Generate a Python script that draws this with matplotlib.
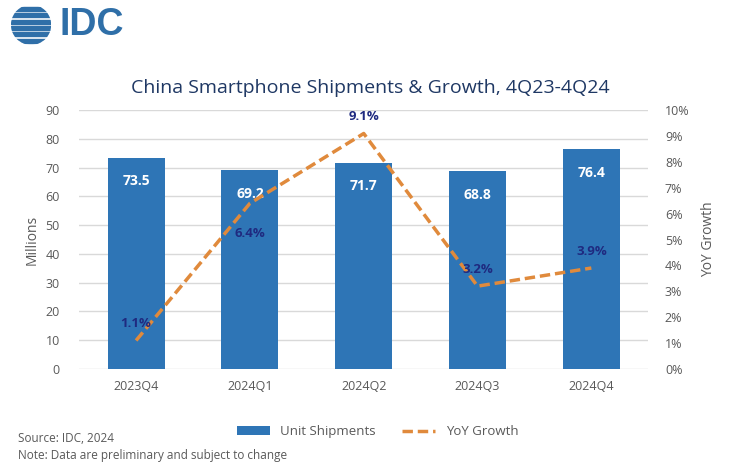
import matplotlib.pyplot as plt
import matplotlib.patches as mpatches
import numpy as np

plt.rcParams['font.family'] = ['Open Sans', 'DejaVu Sans']

# data
quarters = ["2023Q4", "2024Q1", "2024Q2", "2024Q3", "2024Q4"]
shipments = [73.5, 69.2, 71.7, 68.8, 76.4]
growth = [1.1, 6.4, 9.1, 3.2, 3.9]
# vertical offset of each growth label (points), 6.4% sits below the line
growth_offsets = [12, -22, 12, 12, 12]

bar_color = "#2E75B6"
line_color = "#E08A3C"
text_gray = "#595959"
navy = "#1F2A80"

fig = plt.figure(figsize=(7.40, 4.73), dpi=100)
ax = fig.add_axes([0.107, 0.220, 0.769, 0.547])
ax2 = ax.twinx()

x = np.arange(len(quarters))
bars = ax.bar(x, shipments, width=0.5, color=bar_color, label="Unit Shipments", zorder=2)
for xi, v in zip(x, shipments):
    ax.annotate(f"{v:.1f}", (xi, v), xytext=(0, -17), textcoords="offset points",
                ha="center", va="center", color="white", fontsize=10, fontweight="bold")

ax.set_xlim(-0.5, len(quarters) - 0.5)
ax.set_ylim(0, 90)
ax.set_yticks(range(0, 91, 10))
ax.set_xticks(x)
ax.set_xticklabels(quarters)
ax.grid(axis="y", color="#D9D9D9", linewidth=1, zorder=0)
ax.set_axisbelow(True)
ax.set_ylabel("Millions", color=text_gray, fontsize=10)

ax2.plot(x, growth, color=line_color, linestyle="--", linewidth=2.5, dashes=(3, 1.4),
         label="YoY Growth", zorder=3)
for xi, g, off in zip(x, growth, growth_offsets):
    ax2.annotate(f"{g:.1f}%", (xi, g), xytext=(0, off), textcoords="offset points",
                 ha="center", va="center", color=navy, fontsize=9.5, fontweight="bold")
ax2.set_ylim(0, 10)
ax2.set_yticks(range(0, 11))
ax2.set_yticklabels([f"{i}%" for i in range(0, 11)])
ax2.set_ylabel("YoY Growth", color=text_gray, fontsize=10, labelpad=8)

for a in (ax, ax2):
    for s in a.spines.values():
        s.set_visible(False)
    a.tick_params(length=0, colors=text_gray, labelsize=9)
ax.tick_params(axis="x", pad=8)
ax.tick_params(axis="y", pad=14)
ax2.tick_params(axis="y", pad=12)

fig.text(0.5, 0.813, "China Smartphone Shipments & Growth, 4Q23-4Q24",
         ha="center", va="center", fontsize=14, color="#1F3864")

handles = [bars, ax2.get_lines()[0]]
fig.legend(handles, ["Unit Shipments", "YoY Growth"], loc="center",
           bbox_to_anchor=(0.51, 0.087), ncol=2, frameon=False, fontsize=9.5,
           labelcolor=text_gray, handlelength=2.5, columnspacing=2)

fig.text(0.024, 0.073, "Source: IDC, 2024", fontsize=8.5, color=text_gray, va="center")
fig.text(0.024, 0.038, "Note: Data are preliminary and subject to change",
         fontsize=8.5, color=text_gray, va="center")

# IDC logo
logo_blue = "#2F6FA8"
lax = fig.add_axes([0.012, 0.905, 0.06, 0.085])
lax.set_xlim(-1, 1)
lax.set_ylim(-1, 1)
lax.set_aspect("equal")
lax.axis("off")
circle = mpatches.Circle((0, 0), 1, transform=lax.transData)
for yy in np.linspace(-0.8, 0.8, 6):
    r = lax.add_patch(mpatches.Rectangle((-1, yy - 0.1), 2, 0.2, color=logo_blue))
    r.set_clip_path(circle)
fig.text(0.08, 0.948, "IDC", fontsize=27, color=logo_blue, va="center",
         fontweight="bold", family=["Liberation Sans", "DejaVu Sans"])

fig.savefig("out.png", dpi=100)
